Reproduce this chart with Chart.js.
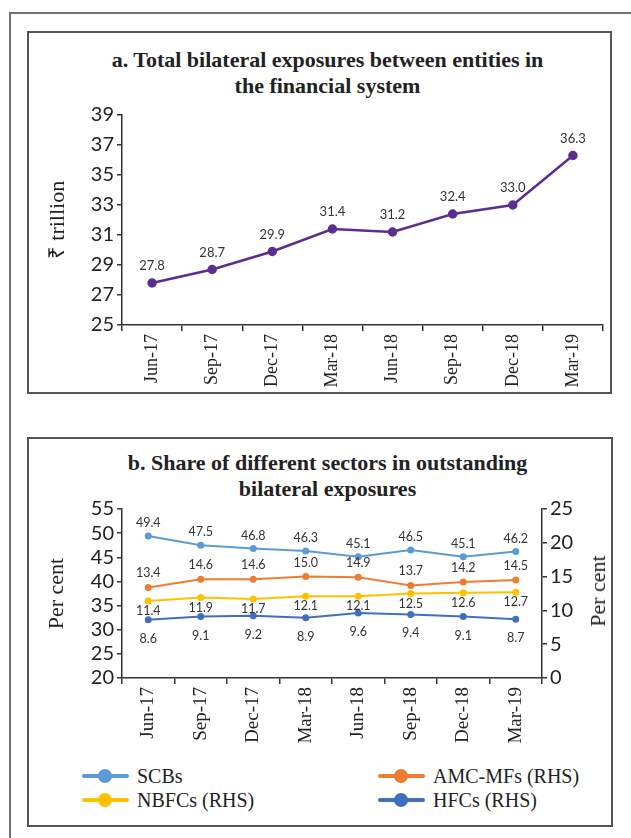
<!DOCTYPE html>
<html><head><meta charset="utf-8">
<script src="https://cdn.jsdelivr.net/npm/chart.js@4.4.1/dist/chart.umd.min.js"></script>
<style>
html,body{margin:0;padding:0;background:#fff;width:631px;height:838px;overflow:hidden;position:relative;}
.box{position:absolute;box-sizing:border-box;}
#outer{left:9px;top:12px;width:700px;height:900px;border:2px solid #707070;}
#pa{left:27px;top:31px;width:585px;height:363px;border:2px solid #555;}
#pb{left:27px;top:437px;width:586px;height:390px;border:2px solid #555;}
.title{position:absolute;left:35px;width:585px;text-align:center;font:bold 22px "Liberation Serif",serif;color:#222;line-height:26px;}
canvas{position:absolute;}
.legItem{position:absolute;height:24px;}
.legLine{position:absolute;top:10px;width:47px;height:4px;border-radius:2px;}
.legDot{position:absolute;top:5px;width:14px;height:14px;border-radius:50%;}
.legText{position:absolute;left:55px;top:0;white-space:nowrap;font:20px "Liberation Serif",serif;color:#222;line-height:24px;}
#rtitle{position:absolute;font:22px "Liberation Serif",serif;color:#222;white-space:nowrap;transform:translate(-50%,-50%) rotate(-90deg);}
</style>
</head>
<body>
<div id="outer" class="box"></div>
<div id="pa" class="box"></div>
<div id="pb" class="box"></div>
<div class="title" style="top:47px">a. Total bilateral exposures between entities in<br>the financial system</div>
<div class="title" style="top:450px">b. Share of different sectors in outstanding<br>bilateral exposures</div>
<canvas id="ca" width="580" height="291" style="left:29px;top:100px"></canvas>
<canvas id="cb" width="582" height="270" style="left:29px;top:494px"></canvas>
<div id="rtitle" style="left:598px;top:591px">Per cent</div>
<div id="legend"></div>
<script>
// ---- data ----
const quarters = ['Jun-17','Sep-17','Dec-17','Mar-18','Jun-18','Sep-18','Dec-18','Mar-19'];
const totalExposure = [27.8, 28.7, 29.9, 31.4, 31.2, 32.4, 33.0, 36.3];
const seriesNames = ['SCBs','AMC-MFs (RHS)','NBFCs (RHS)','HFCs (RHS)'];
const scbs   = [49.4, 47.5, 46.8, 46.3, 45.1, 46.5, 45.1, 46.2];
const amcmfs = [13.4, 14.6, 14.6, 15.0, 14.9, 13.7, 14.2, 14.5];
const nbfcs  = [11.4, 11.9, 11.7, 12.1, 12.1, 12.5, 12.6, 12.7];
const hfcs   = [8.6, 9.1, 9.2, 8.9, 9.6, 9.4, 9.1, 8.7];
const ticksA = [25, 27, 29, 31, 33, 35, 37, 39];
const ticksBLeft = [20, 25, 30, 35, 40, 45, 50, 55];
const ticksBRight = [0, 5, 10, 15, 20, 25];

const tickFont = {family:'Lato, "Open Sans", sans-serif', size:20};
const catFontA = {family:'"Liberation Serif", serif', size:18};
const catFontB = {family:'"Liberation Serif", serif', size:19};
const axisTitleFont = {family:'"Liberation Serif", serif', size:22};
const axisCol = '#333';

const valueLabels = {
  id:'valueLabels',
  afterDatasetsDraw(chart){
    const ctx = chart.ctx;
    chart.data.datasets.forEach((ds,i)=>{
      const meta = chart.getDatasetMeta(i);
      ctx.save();
      ctx.font = (ds.labelSize || 13) + 'px Lato, "Open Sans", sans-serif';
      ctx.fillStyle = '#333';
      ctx.textAlign = 'center';
      ctx.textBaseline = 'middle';
      meta.data.forEach((pt,j)=>{
        ctx.fillText(ds.data[j].toFixed(1), pt.x, pt.y + ds.labelOffset);
      });
      ctx.restore();
    });
  }
};

function fixW(w){ return s => { s.width = w; }; }
function fixH(h){ return s => { s.height = h; }; }

new Chart(document.getElementById('ca'), {
  type:'line',
  data:{labels:quarters, datasets:[{
    label:'Total', data:totalExposure, borderColor:'#5c2d91', backgroundColor:'#5c2d91',
    borderWidth:2.5, pointRadius:3.5, pointHoverRadius:3.5, tension:0, labelOffset:-17
  }]},
  options:{
    responsive:false, animation:false,
    layout:{padding:{top:12,right:2,left:0,bottom:0}},
    plugins:{legend:{display:false}, tooltip:{enabled:false}},
    scales:{
      x:{offset:true, afterFit:fixH(66),
         grid:{offset:true, drawOnChartArea:false, drawTicks:true, tickLength:6, color:axisCol, lineWidth:1.5},
         border:{display:true, color:axisCol, width:1.5},
         ticks:{minRotation:90, maxRotation:90, autoSkip:false, padding:3, font:catFontA, color:'#222'}},
      y:{min:25, max:39, afterFit:fixW(93),
         afterBuildTicks:s=>{ s.ticks = ticksA.map(v=>({value:v})); },
         grid:{drawOnChartArea:false, drawTicks:true, tickLength:5, color:axisCol, lineWidth:1.5},
         border:{display:true, color:axisCol, width:1.5},
         ticks:{autoSkip:false, padding:3, font:tickFont, color:'#222'},
         title:{display:true, text:'₹ trillion', font:axisTitleFont, color:'#222', padding:{top:16,bottom:0}}}
    }
  },
  plugins:[valueLabels]
});

const colors = ['#5b9bd5','#ed7d31','#ffc000','#3f6fbd'];
const seriesData = [scbs, amcmfs, nbfcs, hfcs];
const axes = ['y','y1','y1','y1'];
const offsets = [-13, -14, 10, 19];

new Chart(document.getElementById('cb'), {
  type:'line',
  data:{labels:quarters, datasets:seriesData.map((d,i)=>({
    label:seriesNames[i], data:d, yAxisID:axes[i], borderColor:colors[i], backgroundColor:colors[i],
    borderWidth:2, pointRadius:2.5, pointHoverRadius:2.5, tension:0, labelOffset:offsets[i], labelSize:12.5
  }))},
  options:{
    responsive:false, animation:false,
    layout:{padding:{top:15,right:0,left:0,bottom:0}},
    plugins:{legend:{display:false}, tooltip:{enabled:false}},
    scales:{
      x:{offset:true, afterFit:fixH(86),
         grid:{offset:true, drawOnChartArea:false, drawTicks:true, tickLength:6, color:axisCol, lineWidth:1.5},
         border:{display:true, color:axisCol, width:1.5},
         ticks:{minRotation:90, maxRotation:90, autoSkip:false, padding:3, font:catFontB, color:'#222'}},
      y:{position:'left', min:20, max:55, afterFit:fixW(93),
         afterBuildTicks:s=>{ s.ticks = ticksBLeft.map(v=>({value:v})); },
         grid:{drawOnChartArea:false, drawTicks:true, tickLength:5, color:axisCol, lineWidth:1.5},
         border:{display:true, color:axisCol, width:1.5},
         ticks:{autoSkip:false, padding:3, font:tickFont, color:'#222'},
         title:{display:true, text:'Per cent', font:axisTitleFont, color:'#222', padding:{top:15,bottom:0}}},
      y1:{position:'right', min:0, max:25, afterFit:fixW(69),
         afterBuildTicks:s=>{ s.ticks = ticksBRight.map(v=>({value:v})); },
         grid:{drawOnChartArea:false, drawTicks:true, tickLength:5, color:axisCol, lineWidth:1.5},
         border:{display:true, color:axisCol, width:1.5},
         ticks:{autoSkip:false, padding:3, font:tickFont, color:'#222'}}
    }
  },
  plugins:[valueLabels]
});

// HTML legend
const legPos = [[82,764],[378,764],[82,788],[378,788]];
const leg = document.getElementById('legend');
seriesNames.forEach((n,i)=>{
  const it = document.createElement('div');
  it.className='legItem';
  it.style.left=legPos[i][0]+'px'; it.style.top=legPos[i][1]+'px';
  it.innerHTML = '<div class="legLine" style="background:'+colors[i]+'"></div>'+
    '<div class="legDot" style="left:16px;background:'+colors[i]+'"></div>'+
    '<div class="legText">'+n+'</div>';
  leg.appendChild(it);
});
</script>
</body></html>
